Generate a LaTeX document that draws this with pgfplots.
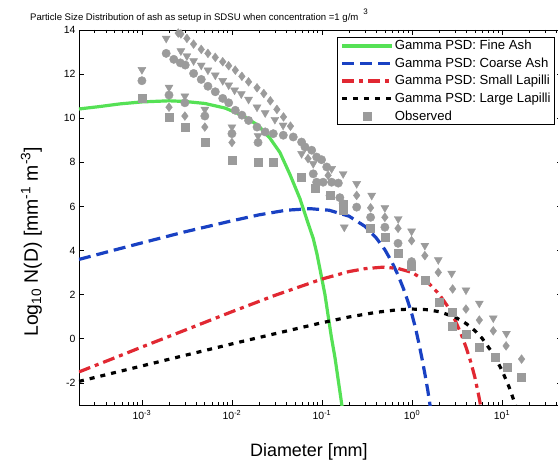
\documentclass[border=0pt]{standalone}
\usepackage{fontspec}
\setmainfont{Liberation Sans}
\usepackage{pgfplots}
\pgfplotsset{compat=1.18}
\definecolor{obs}{RGB}{155,155,155}
\definecolor{cgreen}{RGB}{85,225,85}
\definecolor{cblue}{RGB}{25,65,195}
\definecolor{cred}{RGB}{225,40,50}
\begin{document}
\begin{tikzpicture}
\begin{axis}[
  name=ax,
  scale only axis, width=483bp, height=375bp,
  xmode=log, xmin=2e-4, xmax=46.4, ymin=-3, ymax=14,
  axis line style={line width=0.8bp},
  every tick/.style={black, line width=0.7bp},
  tick align=inside, major tick length=5bp, minor tick length=3bp,
  xtick={1e-3,1e-2,1e-1,1,10},
  xticklabels={10\textsuperscript{-3},10\textsuperscript{-2},10\textsuperscript{-1},10\textsuperscript{0},10\textsuperscript{1}},
  minor xtick={3e-4,4e-4,5e-4,6e-4,7e-4,8e-4,9e-4,2e-3,3e-3,4e-3,5e-3,6e-3,7e-3,8e-3,9e-3,0.02,0.03,0.04,0.05,0.06,0.07,0.08,0.09,0.2,0.3,0.4,0.5,0.6,0.7,0.8,0.9,2,3,4,5,6,7,8,9,20,30,40},
  ytick={-2,0,2,4,6,8,10,12,14},
  yticklabel style={/pgf/number format/assume math mode=true},
  ticklabel style={font=\fontsize{10.5}{12}\selectfont},
  xticklabel style={yshift=-2bp},
  title={Particle Size Distribution of ash as setup in SDSU when concentration =1 g/m\hspace{5bp}\raisebox{6bp}{\fontsize{8}{8}\selectfont 3}},
  title style={at={(0,1)}, anchor=base west, xshift=-49bp, yshift=4bp, font=\fontsize{9.6}{11}\selectfont, inner sep=0pt},
  xlabel={Diameter [mm]},
  xlabel style={at={(0.476,0)}, anchor=base, yshift=-51bp, font=\fontsize{18}{20}\selectfont, inner sep=0pt},
  ylabel={Log\textsubscript{10} N(D) [mm\textsuperscript{-1} m\textsuperscript{-3}]},
  ylabel style={at={(-0.0849,0.435)}, anchor=base, rotate=0, font=\fontsize{19.5}{21}\selectfont, inner sep=0pt},
  legend image code/.code={\draw[mark repeat=2,mark phase=2,#1] plot coordinates {(0bp,0bp) (25bp,0bp) (50bp,0bp)};},
  legend cell align=left,
  legend style={at={(1,1)}, anchor=north east, xshift=-7bp, yshift=-7bp, draw=black, line width=0.8bp, fill=white,
     font=\fontsize{13.2}{14}\selectfont, inner xsep=3bp, inner ysep=1.5bp, row sep=3.5bp,
     nodes={inner xsep=1bp, inner ysep=1.5bp}},
]
\addplot[cgreen, line width=3.2bp, mark=none] coordinates {
(2.0e-4,10.42) (3.4e-4,10.53) (5.7e-4,10.65) (1.0e-3,10.74) (2.0e-3,10.79) (3.0e-3,10.76)
(5.0e-3,10.67) (8.4e-3,10.46) (0.0129,10.14) (0.0195,9.68) (0.0264,9.1) (0.0341,8.45)
(0.0441,7.45) (0.057,6.35) (0.070,5.25) (0.080,4.55) (0.088,3.85) (0.100,2.7) (0.108,2.0)
(0.1166,1.1) (0.127,0.1) (0.1395,-0.85) (0.152,-1.9) (0.167,-3.05) (0.170,-3.3)};
\addlegendentry{Gamma PSD: Fine Ash}
\addplot[cblue, line width=3.2bp, mark=none, dash pattern=on 12bp off 6bp] coordinates {
(2e-4,3.6) (5e-4,4.03) (1e-3,4.35) (3e-3,4.85) (1e-2,5.35) (0.02,5.62) (0.04,5.83) (0.074,5.9)
(0.12,5.83) (0.2,5.56) (0.3,5.10) (0.4,4.58) (0.5,4.04) (0.6,3.47) (0.7,2.89) (0.8,2.30)
(0.9,1.7) (1.0,1.10) (1.1,0.45) (1.2,-0.25) (1.3,-0.95) (1.4,-1.65) (1.5,-2.35) (1.6,-3.1)};
\addlegendentry{Gamma PSD: Coarse Ash}
\addplot[cred, line width=3.2bp, mark=none, dash pattern=on 12bp off 5bp on 4bp off 5bp] coordinates {
(2e-4,-1.50) (5e-4,-0.86) (1e-3,-0.37) (3e-3,0.39) (1e-2,1.23) (0.03,1.97) (0.1,2.71)
(0.2,3.05) (0.3,3.18) (0.48,3.25) (0.7,3.19) (1.0,3.01) (1.5,2.56) (2.0,2.03) (2.5,1.46)
(3.0,0.86) (3.5,0.24) (4.0,-0.40) (4.5,-1.05) (5.0,-1.75) (5.5,-2.55) (5.8,-3.05)};
\addlegendentry{Gamma PSD: Small Lapilli}
\addplot[black, line width=3.2bp, mark=none, dash pattern=on 5bp off 6bp] coordinates {
(2e-4,-1.93) (5e-4,-1.53) (1e-3,-1.23) (3e-3,-0.75) (1e-2,-0.23) (0.03,0.23) (0.1,0.73)
(0.2,0.99) (0.4,1.20) (0.7,1.32) (1.0,1.35) (1.5,1.32) (2.0,1.23) (3.0,0.99) (4.0,0.69)
(5.0,0.37) (6.0,0.03) (8.0,-0.69) (10,-1.43) (12,-2.19) (14,-2.96) (14.2,-3.05)};
\addlegendentry{Gamma PSD: Large Lapilli}
% observed: squares
\addplot[only marks, mark=square*, mark size=4bp, color=obs] coordinates {
(1.0e-3,10.9) (2.0e-3,10.05) (3.0e-3,9.6) (5.0e-3,8.9) (1.0e-2,8.1) (0.0195,8.0) (0.0288,8.0)
(0.0594,7.33) (0.085,6.85) (0.125,6.5) (0.17,6.1) (0.17,5.85) (0.34,5.03) (0.5,4.6) (0.7,3.9)
(0.99,3.3) (1.39,2.64) (2.0,1.65) (2.83,1.2) (2.83,0.59) (4.05,0.21) (5.6,-0.36) (8.4,-0.85)
(11.3,-1.3) (16.5,-1.76)};
\addlegendentry{Observed}
% observed: circles
\addplot[only marks, mark=*, mark size=4.2bp, color=obs, forget plot] coordinates {
(1.0e-3,11.7) (2.0e-3,11.05) (3.0e-3,10.7) (5.0e-3,10.1) (1.0e-2,9.3) (0.0195,8.9)
(1.86e-3,12.94) (2.26e-3,12.67) (2.67e-3,12.51) (3.03e-3,12.41) (3.75e-3,12.03) (4.56e-3,11.76)
(5.41e-3,11.45) (6.53e-3,11.2) (7.9e-3,10.9) (9.2e-3,10.7) (0.0109,10.36) (0.0129,10.14)
(0.0153,9.9) (0.019,9.6) (0.0234,9.38) (0.0288,9.3) (0.0372,9.23) (0.048,9.15) (0.0594,8.92)
(0.0647,8.7) (0.0769,8.55) (0.0873,8.24) (0.099,8.12) (0.113,7.79) (0.080,7.48) (0.0873,7.1)
(0.103,7.1) (0.128,7.1) (0.152,7.06) (0.123,6.5) (0.158,6.4) (0.172,6.12) (0.243,5.97)
(0.347,5.51) (0.5,5.06) (0.70,4.33) (0.99,3.5)};
% observed: triangles
\addplot[only marks, mark=triangle*, mark size=4.6bp, mark options={rotate=180}, color=obs, forget plot] coordinates {
(1.0e-3,12.2) (2.0e-3,11.4) (3.0e-3,11.0) (5.0e-3,10.4) (1.0e-2,9.6) (0.0195,9.2)
(1.86e-3,13.62) (2.71e-3,13.05) (3.16e-3,12.82) (3.75e-3,12.6) (4.56e-3,12.4) (5.41e-3,12.18)
(6.53e-3,11.95) (7.9e-3,11.7) (9.2e-3,11.5) (0.0107,11.27) (0.0127,11.1) (0.0153,10.85)
(0.019,10.5) (0.0234,10.24) (0.03,9.94) (0.037,9.68) (0.0594,8.39) (0.080,7.94) (0.128,7.71)
(0.172,7.48) (0.243,7.03) (0.357,6.5) (0.5,5.94) (0.704,5.44) (0.99,4.88) (1.39,4.23)
(1.96,3.58) (2.76,2.97) (3.98,2.21) (5.6,1.61) (8.0,0.94) (11.2,0.24) (0.177,5.06)};
% observed: diamonds
\addplot[only marks, mark=diamond*, mark size=4.4bp, color=obs, forget plot] coordinates {
(2.0e-3,10.5) (3.0e-3,10.1) (5.0e-3,9.6) (1.0e-2,8.9)
(2.53e-3,13.86) (2.71e-3,13.82) (3.16e-3,13.62) (3.75e-3,13.36) (4.56e-3,13.12) (5.41e-3,12.94)
(6.53e-3,12.76) (7.9e-3,12.56) (9.2e-3,12.38) (0.0109,12.18) (0.0129,11.9) (0.0153,11.65)
(0.019,11.38) (0.0226,11.12) (0.0267,10.79) (0.0316,10.4) (0.0374,10.06) (0.0447,9.64)
(0.070,8.17) (0.117,7.41) (0.243,6.5) (0.347,5.94) (0.5,5.51) (0.70,5.01) (0.99,4.45)
(1.39,3.77) (1.96,3.01) (2.83,2.26) (3.98,1.35) (5.6,0.85) (8.0,0.36) (11.1,-0.32) (16.5,-0.92)};
\end{axis}
\pgfresetboundingbox
\path[use as bounding box] (ax.south west) ++(-79bp,-59bp) rectangle ++(558bp,464bp);
\end{tikzpicture}
\end{document}
